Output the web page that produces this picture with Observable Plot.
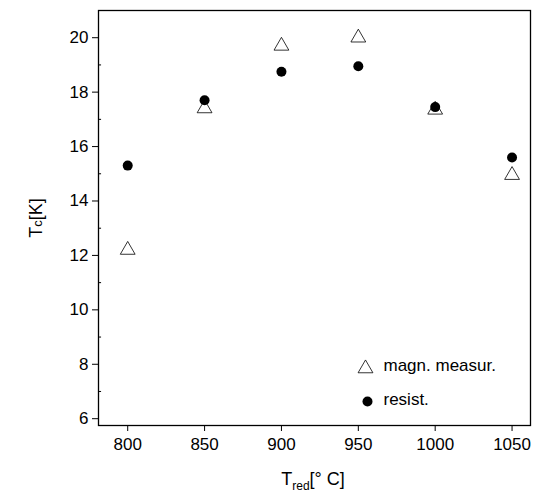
<!DOCTYPE html>
<html><head><meta charset="utf-8">
<script src="https://cdn.jsdelivr.net/npm/d3@7"></script>
<script src="https://cdn.jsdelivr.net/npm/@observablehq/plot@0.6"></script>
<style>body{margin:0;background:#fff}</style>
</head><body><div id="chart"></div>
<script>
const temps = [800, 850, 900, 950, 1000, 1050]
const magn = [12.2, 17.4, 19.7, 20.0, 17.35, 14.95]
const resist = [15.3, 17.7, 18.75, 18.95, 17.45, 15.6]
const xTicks = [800, 850, 900, 950, 1000, 1050]
const yTicks = [6, 8, 10, 12, 14, 16, 18, 20]
const yMinor = [7, 9, 11, 13, 15, 17, 19]

const font = 'Liberation Sans, Arial, sans-serif'
const chart = Plot.plot({
  width: 543, height: 499,
  marginLeft: 98, marginRight: 13, marginTop: 10, marginBottom: 74,
  style: {fontFamily: font, fontSize: 17, color: 'black'},
  x: {domain: [781, 1062], ticks: xTicks, tickSize: 6, label: null, tickPadding: 6, tickFormat: 'd'},
  y: {domain: [5.75, 21], ticks: yTicks, tickSize: 6, label: null, tickPadding: 4},
  marks: [
    Plot.frame({stroke: 'black', strokeWidth: 1.3}),
    Plot.ruleY(yMinor, {x1: 781, x2: 783, stroke: 'black'}),
    Plot.dot(temps, {x: d => d, y: (d, i) => magn[i], symbol: 'triangle', r: 5.5, stroke: 'black', strokeWidth: 0.8}),
    Plot.dot(temps, {x: d => d, y: (d, i) => resist[i], symbol: 'circle', r: 5, fill: 'black'}),
    Plot.dot([0], {frameAnchor: 'bottom-left', dx: 267, dy: -57, symbol: 'triangle', r: 5.5, stroke: 'black', strokeWidth: 0.8}),
    Plot.dot([0], {frameAnchor: 'bottom-left', dx: 269, dy: -24, symbol: 'circle', r: 5, fill: 'black'}),
    Plot.text(['magn. measur.'], {frameAnchor: 'bottom-left', dx: 285, dy: -55, textAnchor: 'start', fontSize: 17}),
    Plot.text(['resist.'], {frameAnchor: 'bottom-left', dx: 285, dy: -21, textAnchor: 'start', fontSize: 17})
  ]
})
const svg = d3.select(chart)
svg.append('text').attr('x', 313).attr('y', 485).attr('text-anchor', 'middle')
  .attr('font-size', 18).attr('font-family', font)
  .call(t => {
    t.append('tspan').text('T')
    t.append('tspan').text('red').attr('font-size', 12).attr('dy', 5)
    t.append('tspan').text('[° C]').attr('dy', -5)
  })
svg.append('text').attr('transform', 'translate(42,218) rotate(-90)').attr('text-anchor', 'middle')
  .attr('font-size', 18).attr('font-family', font)
  .call(t => {
    t.append('tspan').text('T')
    t.append('tspan').text('c').attr('font-size', 13)
    t.append('tspan').text('[K]')
  })
d3.select('#chart').append(() => chart)
</script></body></html>
